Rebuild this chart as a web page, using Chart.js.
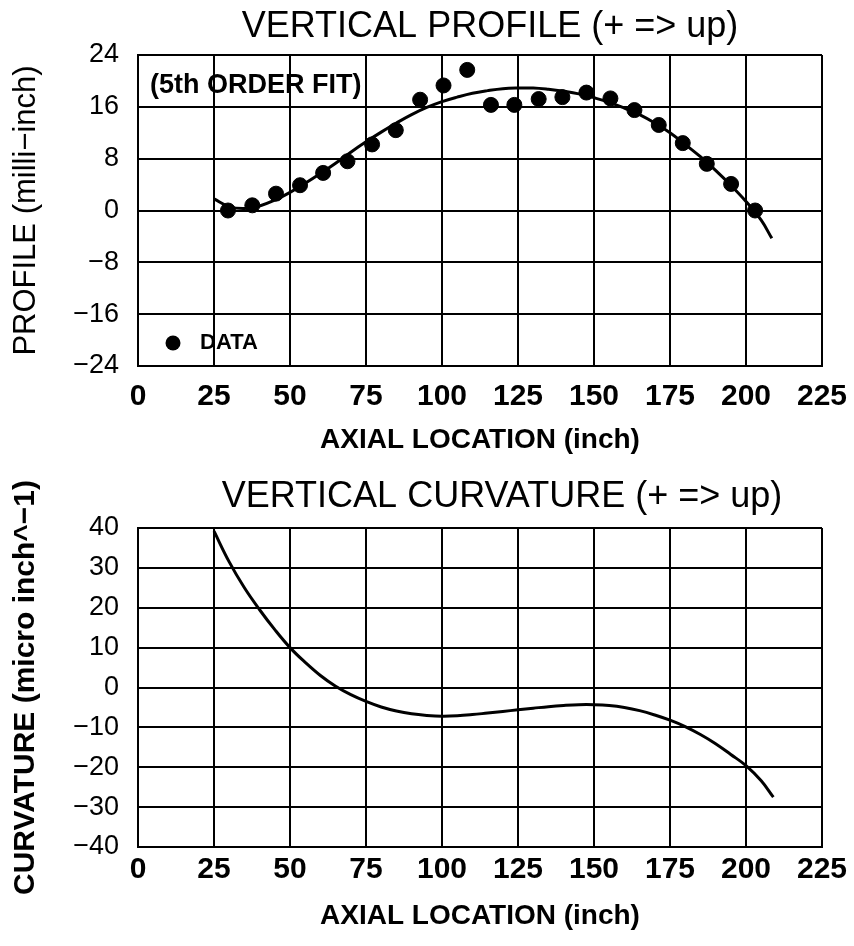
<!DOCTYPE html>
<html>
<head>
<meta charset="utf-8">
<title>Vertical profile and curvature</title>
<script src="https://cdn.jsdelivr.net/npm/chart.js@4.4.1/dist/chart.umd.min.js"></script>
<style>
  html, body { margin: 0; padding: 0; background: #fff; }
  #page { position: relative; width: 854px; height: 946px; }
  canvas { position: absolute; left: 0; }
</style>
</head>
<body>
<div id="page">
  <canvas id="profileChart" width="854" height="473" style="top:0"></canvas>
  <canvas id="curvChart" width="854" height="473" style="top:473px"></canvas>
</div>
<script>
// measured points (axial location in inch, profile in milli-inch)
const dataX = [29.6, 37.6, 45.4, 53.3, 60.9, 68.9, 77.0, 84.8, 92.8, 100.5, 108.3, 116.1,
               123.8, 131.8, 139.6, 147.5, 155.4, 163.3, 171.3, 179.2, 187.1, 195.1, 203.0];
const dataY = [0.0, 0.8, 2.6, 3.9, 5.8, 7.6, 10.2, 12.4, 17.1, 19.3, 21.7, 16.3,
               16.3, 17.2, 17.5, 18.2, 17.3, 15.5, 13.2, 10.4, 7.2, 4.1, 0.0];

// 5th order fit
const fitX = [25, 30, 35, 40, 45, 50, 55, 60, 65, 70, 75, 80, 85, 90, 95, 100, 105, 110, 115, 120,
              125, 130, 135, 140, 145, 150, 155, 160, 165, 170, 175, 180, 185, 190, 195, 200, 205, 208.5];
const fitY = [1.8, 0.6, 0.3, 0.7, 1.6, 2.8, 4.2, 5.7, 7.3, 9.0, 10.6, 12.1, 13.5, 14.8, 15.9, 16.8, 17.5, 18.1, 18.5, 18.8,
              18.9, 18.9, 18.7, 18.4, 18.0, 17.4, 16.7, 15.8, 14.8, 13.5, 12.0, 10.2, 8.3, 6.2, 3.9, 1.4, -1.5, -4.3];

// curvature (micro inch^-1)
const curvX = [25, 30, 35, 40, 45, 50, 55, 60, 65, 70, 75, 80, 85, 90, 95, 100, 105, 110, 115, 120,
               125, 130, 135, 140, 145, 150, 155, 160, 165, 170, 175, 180, 185, 190, 195, 200, 205, 209];
const curvY = [39.2, 31.5, 25.0, 19.5, 14.5, 10.0, 6.3, 3.0, 0.3, -1.8, -3.5, -4.9, -5.9, -6.6, -7.0, -7.2, -7.1, -6.8, -6.4, -6.0,
               -5.6, -5.2, -4.8, -4.5, -4.3, -4.3, -4.5, -5.0, -5.8, -6.9, -8.2, -9.8, -11.8, -14.1, -16.8, -19.6, -23.4, -27.5];

const xTicks = [0, 25, 50, 75, 100, 125, 150, 175, 200, 225];
const profileTicks = [-24, -16, -8, 0, 8, 16, 24];
const curvTicks = [-40, -30, -20, -10, 0, 10, 20, 30, 40];

const FONT = "'Liberation Sans', Arial, sans-serif";

function toXY(xs, ys) {
    return xs.map((x, i) => ({ x: x, y: ys[i] }));
}
function minusSign(v) {
    return String(v).replace('-', '\u2212');
}

// x axis: tick gap done with an invisible tick mark so the right edge stays put
function xAxis(gap, axisHeight, titleBottom) {
    return {
        type: 'linear', min: 0, max: 225,
        afterBuildTicks: s => { s.ticks = xTicks.map(v => ({ value: v })); },
        afterFit: s => { s.height = axisHeight; },
        ticks: { color: '#000', padding: 0, maxRotation: 0, autoSkip: false,
                 font: { family: FONT, size: 30, weight: 'bold' } },
        grid: { color: '#000', lineWidth: 2, drawTicks: true, tickLength: gap, tickColor: 'rgba(0,0,0,0)' },
        border: { color: '#000', width: 2 },
        title: { display: true, text: 'AXIAL LOCATION (inch)', color: '#000',
                 font: { family: FONT, size: 28, weight: 'bold' }, padding: { top: 0, bottom: titleBottom } }
    };
}

function yAxis(ticks, label, bold, size) {
    return {
        type: 'linear', min: ticks[0], max: ticks[ticks.length - 1],
        afterBuildTicks: s => { s.ticks = ticks.map(v => ({ value: v })); },
        afterFit: s => { s.width = 138; },
        ticks: { color: '#000', padding: 19, autoSkip: false, callback: v => minusSign(v),
                 font: { family: FONT, size: 27 } },
        grid: { color: '#000', lineWidth: 2, drawTicks: false },
        border: { color: '#000', width: 2 },
        title: { display: true, text: label, color: '#000',
                 font: { family: FONT, size: size, weight: bold ? 'bold' : 'normal' },
                 padding: { top: 8, bottom: 0 } }
    };
}

// plot heading, drawn over the plot area instead of the whole canvas
function heading(text, cx, baseline) {
    return {
        id: 'heading',
        afterDraw(chart) {
            const ctx = chart.ctx;
            ctx.save();
            ctx.fillStyle = '#000';
            ctx.font = "36px " + FONT;
            ctx.textAlign = 'center';
            ctx.textBaseline = 'alphabetic';
            ctx.fillText(text, cx, baseline);
            ctx.restore();
        }
    };
}

// labels inside the profile plot
const profileNotes = {
    id: 'profileNotes',
    afterDatasetsDraw(chart) {
        const ctx = chart.ctx;
        const a = chart.chartArea;
        ctx.save();
        ctx.fillStyle = '#000';
        ctx.textBaseline = 'middle';
        ctx.font = "bold 27px " + FONT;
        ctx.fillText('(5th ORDER FIT)', a.left + 12, a.top + 31);
        ctx.beginPath();
        ctx.arc(a.left + 35, a.bottom - 23, 7.5, 0, Math.PI * 2);
        ctx.fill();
        ctx.font = "bold 22px " + FONT;
        ctx.fillText('DATA', a.left + 62, a.bottom - 23);
        ctx.restore();
    }
};

new Chart(document.getElementById('profileChart'), {
    type: 'scatter',
    data: {
        datasets: [
            { label: '5th ORDER FIT', data: toXY(fitX, fitY), showLine: true, pointRadius: 0,
              borderColor: '#000', borderWidth: 3, tension: 0.4 },
            { label: 'DATA', data: toXY(dataX, dataY), pointRadius: 7.5, pointHoverRadius: 7.5,
              backgroundColor: '#000', borderColor: '#000', showLine: false }
        ]
    },
    options: {
        responsive: false,
        animation: false,
        layout: { padding: { left: 0, right: 32, top: 55, bottom: 0 } },
        plugins: { legend: { display: false }, tooltip: { enabled: false }, title: { display: false } },
        scales: { x: xAxis(13, 107, 16), y: yAxis(profileTicks, 'PROFILE (milli\u2212inch)', false, 31) }
    },
    plugins: [profileNotes, heading('VERTICAL PROFILE (+ => up)', 490, 37)]
});

new Chart(document.getElementById('curvChart'), {
    type: 'scatter',
    data: {
        datasets: [
            { label: 'CURVATURE', data: toXY(curvX, curvY), showLine: true, pointRadius: 0,
              borderColor: '#000', borderWidth: 3, tension: 0.4 }
        ]
    },
    options: {
        responsive: false,
        animation: false,
        layout: { padding: { left: 0, right: 32, top: 55, bottom: 0 } },
        plugins: { legend: { display: false }, tooltip: { enabled: false }, title: { display: false } },
        scales: { x: xAxis(5, 99, 13), y: yAxis(curvTicks, 'CURVATURE (micro inch^\u22121)', true, 30) }
    },
    plugins: [heading('VERTICAL CURVATURE (+ => up)', 502, 34)]
});
</script>
</body>
</html>
